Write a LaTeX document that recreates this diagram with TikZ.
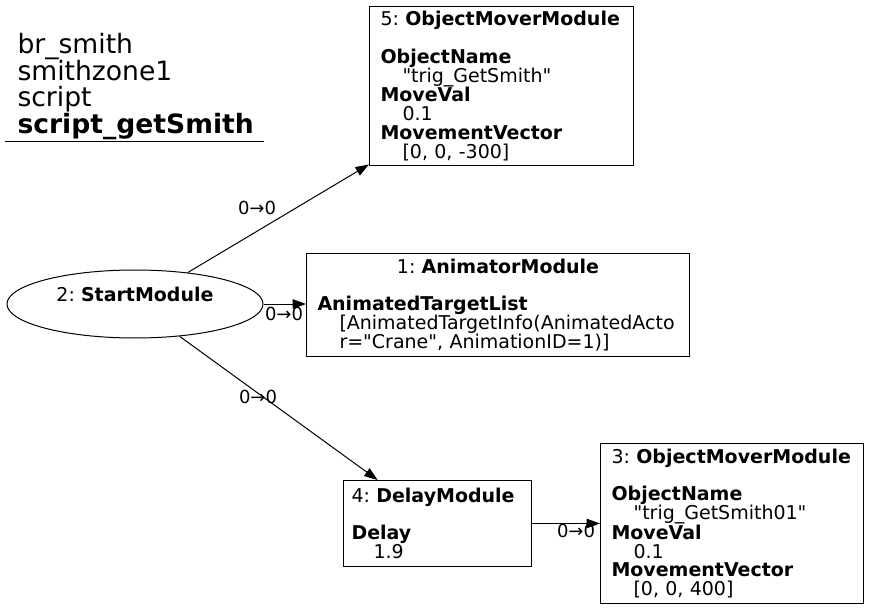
\documentclass[tikz,border=0pt]{standalone}
\usepackage{fontspec}
\setmainfont{DejaVu Sans}[Ligatures=TeXOff]
\usetikzlibrary{shapes.geometric,arrows.meta}

\frenchspacing
\newcommand{\ind}{\hspace*{22pt}}

\begin{document}
\begin{tikzpicture}[x=1pt,y=-1pt,line width=1pt,
   box/.style={draw,rectangle,anchor=north west,inner xsep=11pt,inner ysep=0pt,
      align=left,font=\fontsize{19}{18.7}\selectfont},
   lab/.style={font=\fontsize{18}{18.7}\selectfont},
   link/.style={-{Triangle[length=13.5pt,width=9.5pt]}}]
   \useasboundingbox (0,0) rectangle (869,609);

   % title
   \node[anchor=north west,inner sep=0pt,align=left,
      font=\fontsize{26.6}{26.6}\selectfont] (title) at (17,33)
      {br\_smith\\smithzone1\\script\\\textbf{script\_getSmith}};
   \coordinate (ruleL) at (5,142);
   \coordinate (ruleR) at (264,142);
   \draw (ruleL) -- (ruleR);

   % modules
   \node[ellipse,draw,minimum width=256pt,minimum height=68pt,align=center,
      font=\fontsize{19}{18.7}\selectfont] (start) at (135,304)
      {2: \textbf{StartModule}\\~};

   \node[box,text width=242pt,minimum height=159pt] (m5) at (369,6)
      {5: \textbf{ObjectMoverModule}\\~\\
       \textbf{ObjectName}\\\ind"trig\_GetSmith"\\
       \textbf{MoveVal}\\\ind 0.1\\
       \textbf{MovementVector}\\\ind[0, 0, -300]};

   \node[box,text width=361pt,minimum height=103pt] (m1) at (306,253)
      {\makebox[361pt]{1: \textbf{AnimatorModule}}\\~\\
       \textbf{AnimatedTargetList}\\\ind[AnimatedTargetInfo(AnimatedActo\\
       \ind r="Crane", AnimationID=1)]};

   \node[box,inner xsep=8pt,text width=172pt,minimum height=86pt] (m4) at (343,480)
      {4: \textbf{DelayModule}\\~\\
       \textbf{Delay}\\\ind 1.9};

   \node[box,text width=241pt,minimum height=160pt] (m3) at (600,443)
      {3: \textbf{ObjectMoverModule}\\~\\
       \textbf{ObjectName}\\\ind"trig\_GetSmith01"\\
       \textbf{MoveVal}\\\ind 0.1\\
       \textbf{MovementVector}\\\ind[0, 0, 400]};

   % links
   \draw[link] (start) -- (m5);
   \draw[link] (start.east) -- (m1.west |- start.east);
   \draw[link] (start) -- (m4);
   \draw[link] (m4.east) -- (m3.west |- m4.east);

   \node[lab] (l5) at (257,208) {0→0};
   \node[lab] (l1) at (284,314) {0→0};
   \node[lab] (l4) at (258,397) {0→0};
   \node[lab] (l3) at (576,531) {0→0};
\end{tikzpicture}
\end{document}
